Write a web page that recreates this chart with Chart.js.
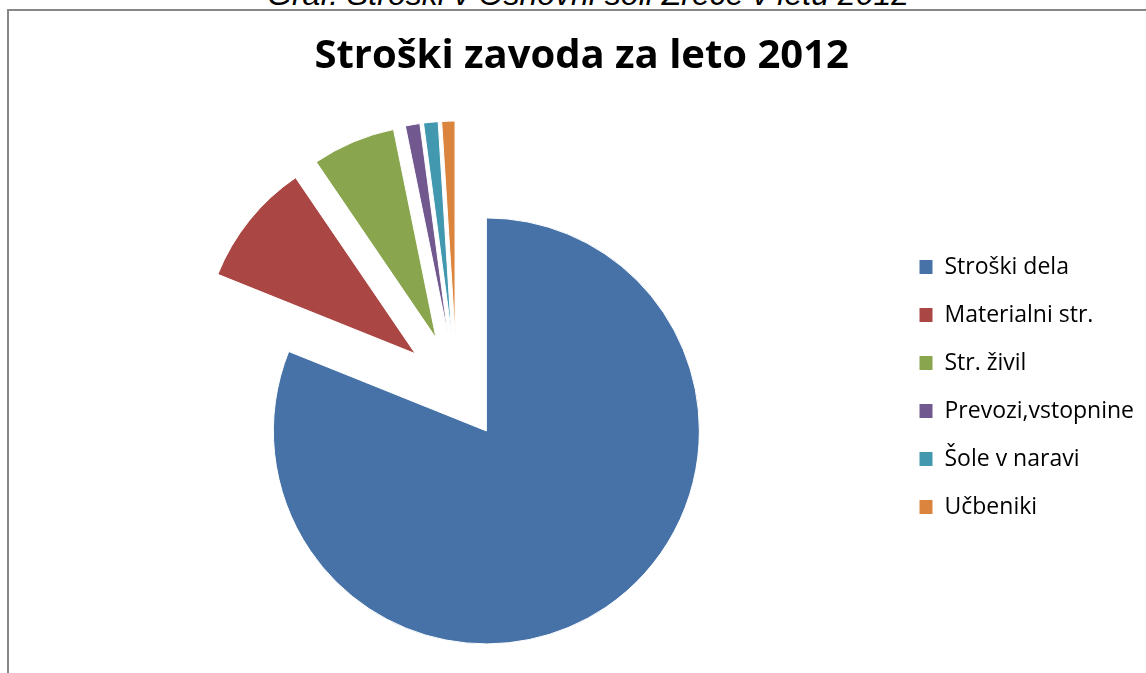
<!DOCTYPE html>
<html>
<head>
<meta charset="utf-8">
<script src="https://cdn.jsdelivr.net/npm/chart.js@4.4.1/dist/chart.umd.min.js"></script>
<style>
  html, body { margin: 0; padding: 0; background: #fff; overflow: hidden; width: 1146px; height: 673px; }
  #caption {
    position: absolute; left: 0; width: 1176px; top: -25px;
    text-align: center; font: italic 32px "Liberation Sans", Arial, sans-serif; color: #000;
    line-height: 38px; white-space: nowrap;
  }
  #frame {
    position: absolute; left: 7px; top: 9px; width: 1160px; height: 700px;
    border-left: 2px solid #878787; border-top: 2px solid #878787;
  }
</style>
</head>
<body>
<div id="caption">Graf: Stroški v Osnovni šoli Zreče v letu 2012</div>
<div id="frame"><canvas id="cost-chart" width="1160" height="700"></canvas></div>
<script>
// Stroški zavoda za leto 2012 (deleži v %)
const categories = ['Stroški dela', 'Materialni str.', 'Str. živil', 'Prevozi,vstopnine', 'Šole v naravi', 'Učbeniki'];
const shares = [81.0, 9.4, 6.3, 1.1, 1.1, 1.0];
const sliceColors = ['#4672A8', '#AA4744', '#89A54E', '#71588F', '#4198AF', '#DB843D'];
const explode = [53, 53, 53, 53, 53, 53];

// Excel-style explosion: push the slice out along its bisector without
// growing its radius (Chart.js' own offset also inflates narrow slices).
const baseArcDraw = Chart.ArcElement.prototype.draw;
Chart.ArcElement.prototype.draw = function (ctx) {
  const opts = this.options;
  const push = opts.offset || 0;
  if (!push) return baseArcDraw.call(this, ctx);
  const mid = (this.startAngle + this.endAngle) / 2;
  ctx.save();
  ctx.translate(Math.cos(mid) * push, Math.sin(mid) * push);
  this.options = Object.assign({}, opts, { offset: 0 });
  baseArcDraw.call(this, ctx);
  this.options = opts;
  ctx.restore();
};

const canvas = document.getElementById('cost-chart');
const W = canvas.width;
const H = canvas.height;

const legendFont = { family: 'Open Sans', size: 23 };
const legendPad = 25;
const boxW = 14;

// legend width as Chart.js will compute it, so the pie and title land in place
const mctx = canvas.getContext('2d');
mctx.font = legendFont.size + 'px "' + legendFont.family + '"';
const maxText = Math.max(...categories.map(c => mctx.measureText(c).width));
const legendW = legendPad + boxW + legendFont.size / 2 + maxText + 10;
const legendLeft = 885;

new Chart(canvas, {
  type: 'pie',
  data: {
    labels: categories,
    datasets: [{
      data: shares,
      backgroundColor: sliceColors,
      borderColor: '#ffffff',
      borderWidth: 1,
      offset: explode,
      hoverOffset: 0,
      radius: 213,
      clip: false,
    }],
  },
  options: {
    responsive: false,
    animation: false,
    layout: { padding: { left: 2 * 447.7 - legendLeft, right: W - legendLeft - legendW, top: 0, bottom: H - 552 } },
    plugins: {
      tooltip: { enabled: false },
      title: {
        display: true,
        text: 'Stroški zavoda za leto 2012',
        color: '#000',
        font: { family: 'Open Sans', size: 40, weight: 'bold', lineHeight: 1.2 },
        padding: { top: 22, bottom: 130 },
      },
      legend: {
        position: 'right',
        fullSize: false,
        labels: {
          boxWidth: boxW,
          boxHeight: 15,
          padding: legendPad,
          color: '#000',
          font: legendFont,
        },
      },
    },
  },
});
</script>
</body>
</html>
